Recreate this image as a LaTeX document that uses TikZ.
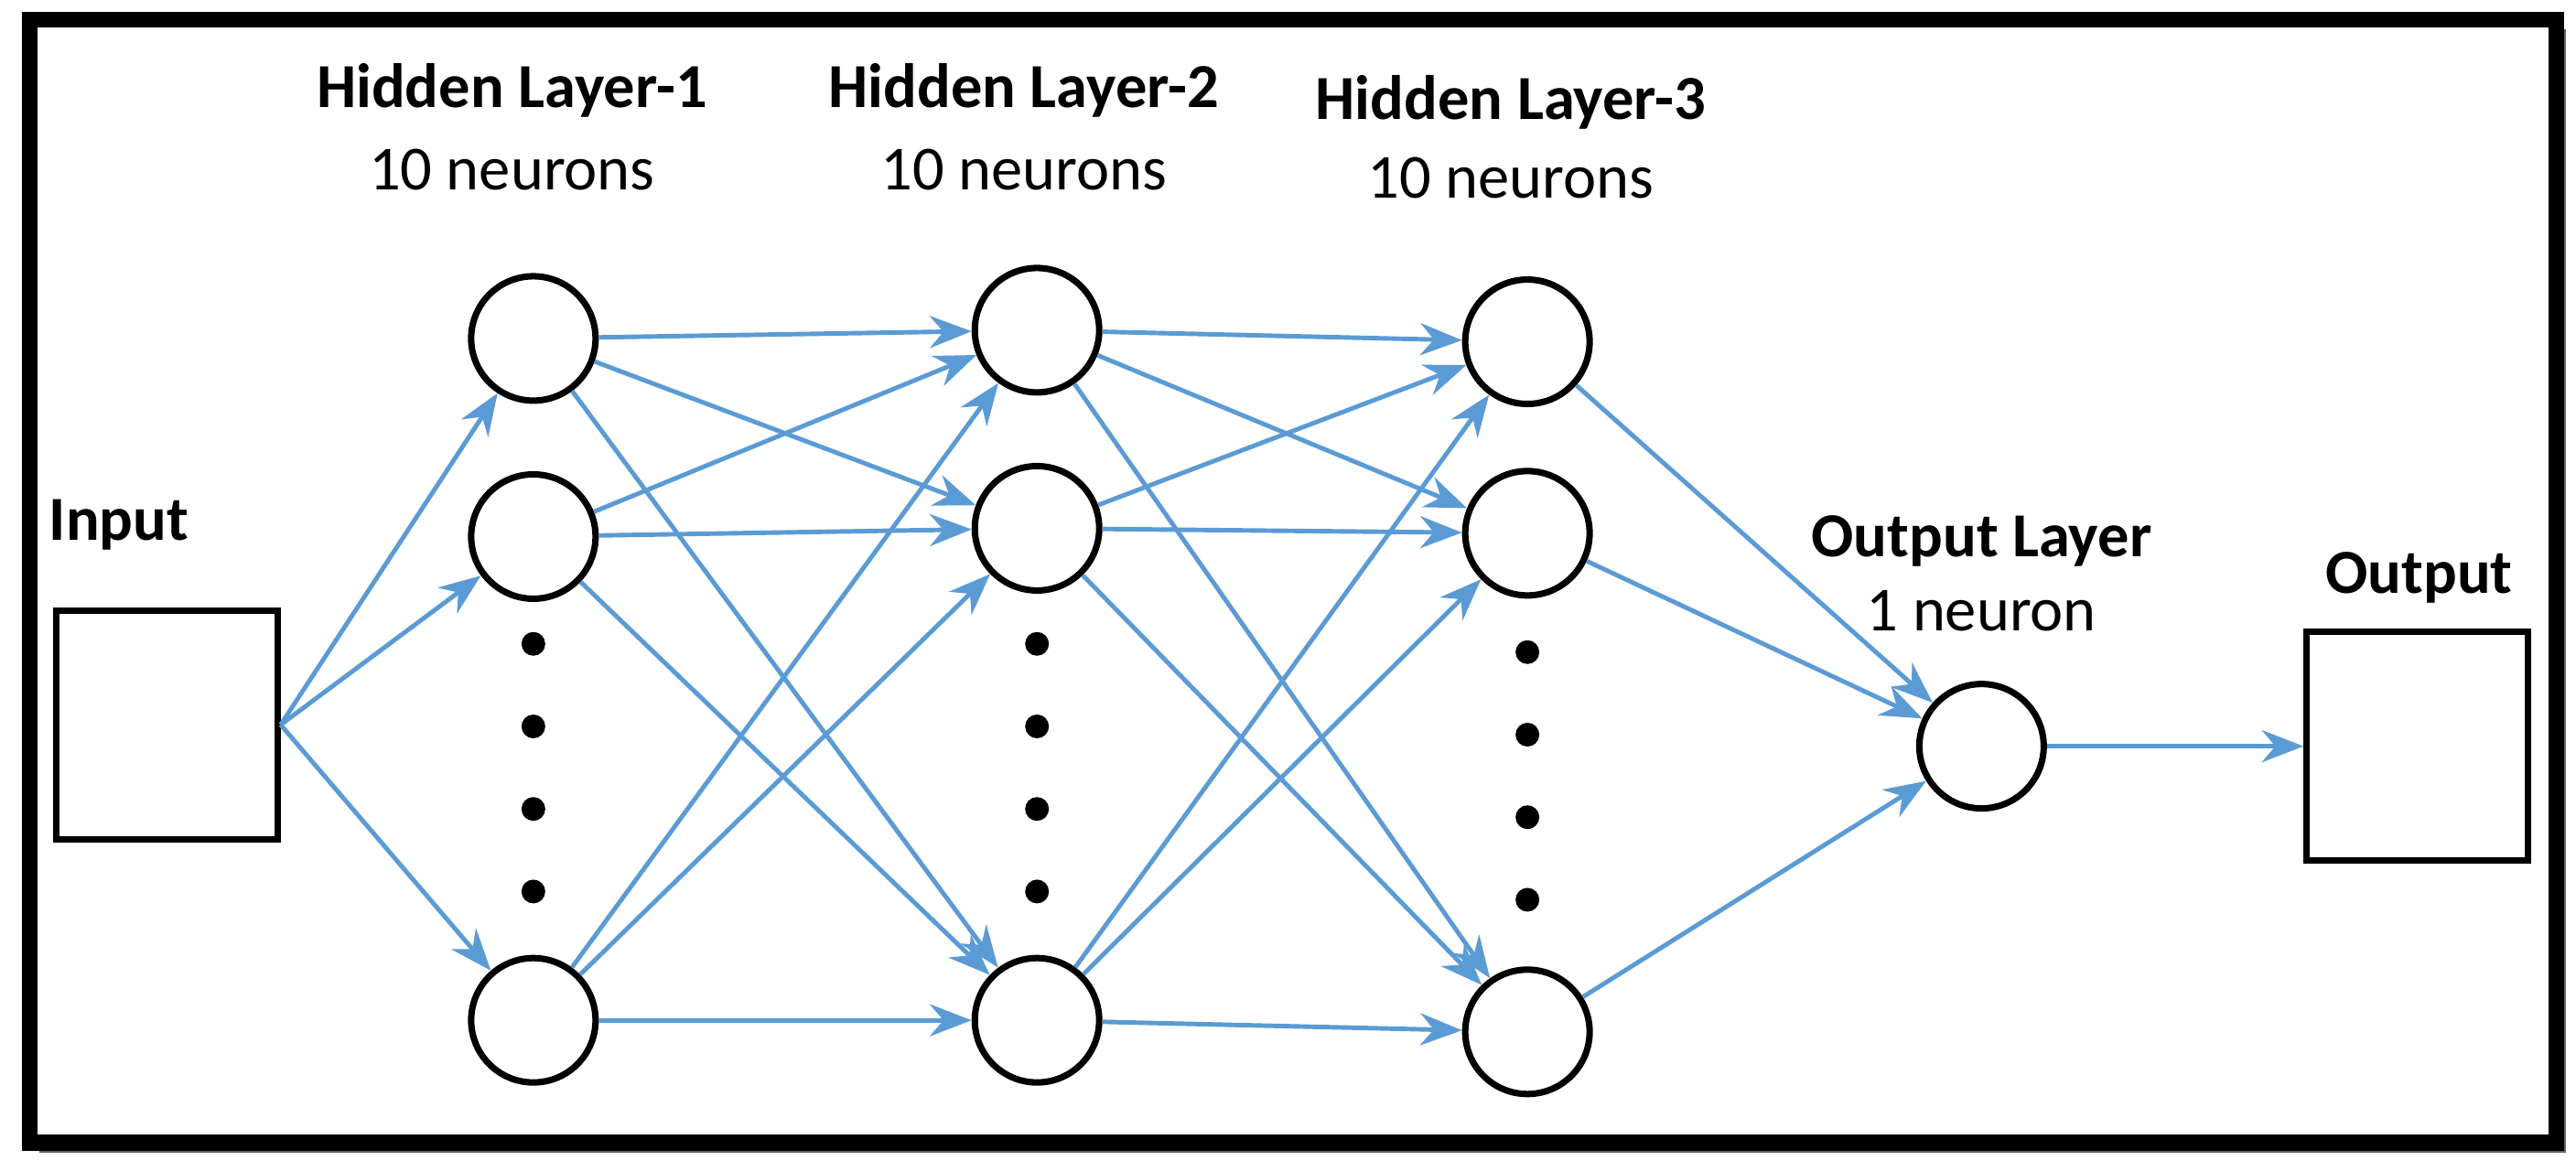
\documentclass[tikz,border=0pt]{standalone}
\usepackage{fontspec}
\setmainfont{Carlito}
\usetikzlibrary{arrows.meta}
\definecolor{edge}{RGB}{91,155,213}
\begin{document}
\begin{tikzpicture}[x=0.01805cm,y=-0.01805cm,
  neuron/.style={circle,draw,line width=2pt,minimum size=1.36cm,inner sep=0},
  box/.style={draw,line width=2pt,minimum width=2.42cm,minimum height=2.5cm,inner sep=0},
  conn/.style={draw=edge,line width=1.4pt,-{Stealth[length=13pt,width=10pt]}},
  dot/.style={circle,fill=black,minimum size=0.26cm,inner sep=0},
  title/.style={font=\fontsize{19.5}{22}\selectfont\bfseries},
  sub/.style={font=\fontsize{19.5}{22}\selectfont}]
\useasboundingbox (0,0) rectangle (1560,703);
\fill[black!60] (24,18) rectangle (1554,698);
\draw[line width=5pt,fill=white] (18,12) rectangle (1548,692);
\node[box] (in) at (101,439) {};
\node[box] (out) at (1464,452) {};
\node[neuron] (a1) at (323,205) {};
\node[neuron] (a2) at (323,325) {};
\node[neuron] (a3) at (323,618) {};
\node[neuron] (b1) at (628,200) {};
\node[neuron] (b2) at (628,320) {};
\node[neuron] (b3) at (628,618) {};
\node[neuron] (c1) at (925,207) {};
\node[neuron] (c2) at (925,323) {};
\node[neuron] (c3) at (925,625) {};
\node[neuron] (o) at (1200,452) {};
\foreach \y in {390,440,490,540}{\node[dot] at (323,\y) {}; \node[dot] at (628,\y) {};}
\foreach \y in {395,445,495,545}{\node[dot] at (925,\y) {};}
\node[title] (t1) at (310,55) {Hidden Layer-1};
\node[sub] (s1) at (310,103) {10 neurons};
\node[title] (t2) at (620,55) {Hidden Layer-2};
\node[sub] (s2) at (620,103) {10 neurons};
\node[title] (t3) at (915,62) {Hidden Layer-3};
\node[sub] (s3) at (915,108) {10 neurons};
\node[title] (ti) at (72,318) {Input};
\node[title] (to) at (1200,328) {Output Layer};
\node[sub] (so) at (1200,370) {1 neuron};
\node[title] (tout) at (1465,350) {Output};
\foreach \a in {a1,a2,a3}{\draw[conn] (in.east) -- (\a);}
\foreach \a in {a1,a2,a3}{\foreach \b in {b1,b2,b3}{\draw[conn] (\a) -- (\b);}}
\foreach \a in {b1,b2,b3}{\foreach \b in {c1,c2,c3}{\draw[conn] (\a) -- (\b);}}
\foreach \a in {c1,c2,c3}{\draw[conn] (\a) -- (o);}
\draw[conn] (o) -- (out);
\end{tikzpicture}
\end{document}
